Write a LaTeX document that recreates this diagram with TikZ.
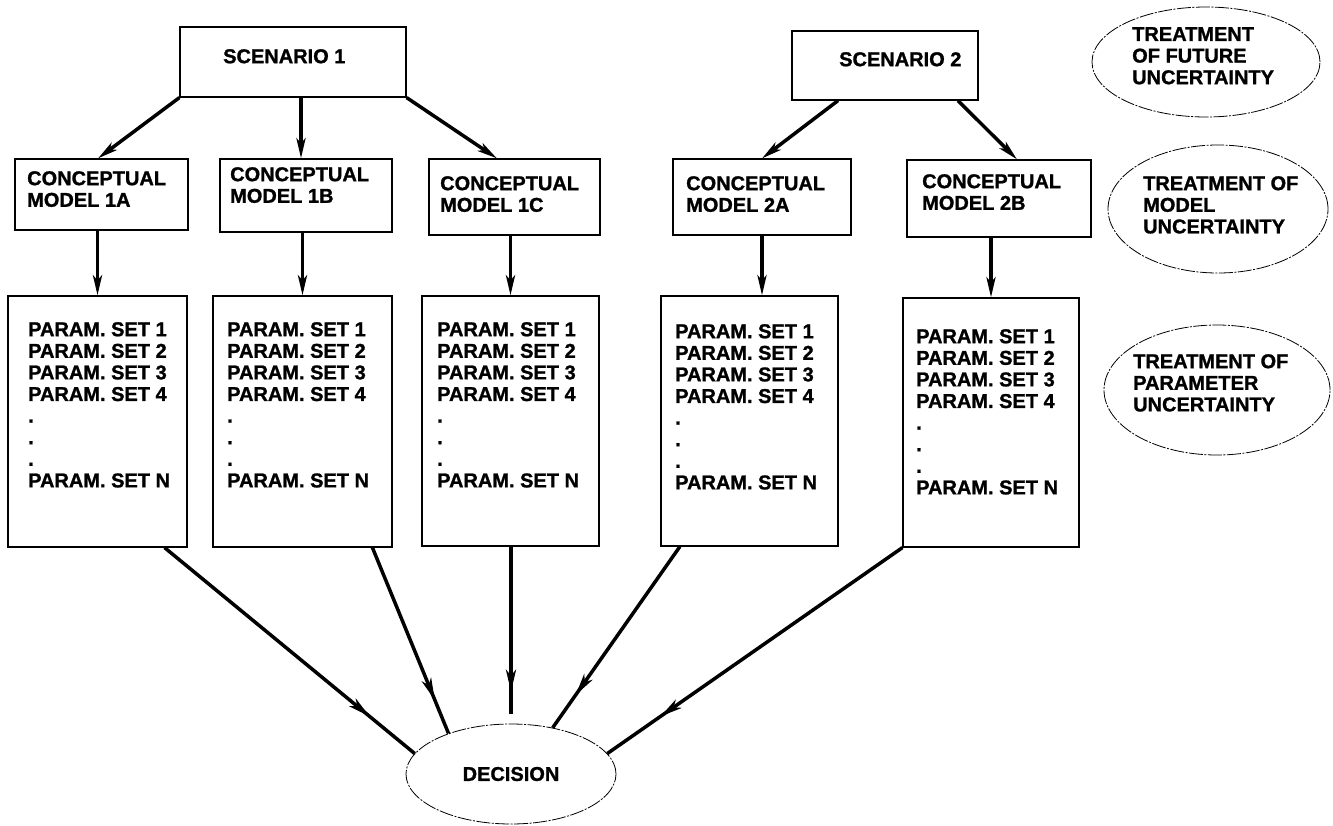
\documentclass[tikz,border=0pt]{standalone}
\usepackage{fontspec}
\setmainfont{Liberation Sans}[BoldFeatures={FakeBold=1.2}]
\usetikzlibrary{arrows.meta,decorations.markings,shapes.geometric}
\begin{document}
\begin{tikzpicture}[x=1pt,y=-1pt,
  box/.style={draw, line width=1.2pt, rectangle, inner sep=0pt},
  oval/.style={draw, ellipse, line width=0.8pt, dash pattern=on 14pt off 1.5pt on 2pt off 1.5pt, inner sep=0pt},
  txtfont/.style={font=\fontsize{20pt}{21.6pt}\selectfont\bfseries},
  txt/.style={txtfont, anchor=north west, inner sep=0pt, align=left},
  tip/.style={line width=3.5pt, -{Stealth[length=20pt,width=9pt,inset=5pt]}},
  mid/.style={line width=3.5pt, decoration={markings, mark=at position 0.82 with {\arrow{Stealth[length=22pt,width=10pt,inset=6pt]}}}, postaction={decorate}}
]
\useasboundingbox (0,0) rectangle (1333,825);

% scenario boxes
\node[box, minimum width=226pt, minimum height=70pt] (s1) at (293,62) {};
\node[box, minimum width=186pt, minimum height=69pt] (s2) at (885,65.5) {};
\node[txt] (s1t) at (223,49) {SCENARIO 1};
\node[txt] (s2t) at (839,52) {SCENARIO 2};

% conceptual model boxes
\node[box, minimum width=173pt, minimum height=71pt] (c1a) at (101.5,194.5) {};
\node[box, minimum width=172pt, minimum height=73pt] (c1b) at (306,195.5) {};
\node[box, minimum width=171pt, minimum height=76pt] (c1c) at (514.5,197) {};
\node[box, minimum width=178pt, minimum height=76pt] (c2a) at (762,197) {};
\node[box, minimum width=184pt, minimum height=77pt] (c2b) at (999,198.5) {};
\node[txt] (c1at) at (27,171) {CONCEPTUAL\\MODEL 1A};
\node[txt] (c1bt) at (230,167) {CONCEPTUAL\\MODEL 1B};
\node[txt] (c1ct) at (440,176) {CONCEPTUAL\\MODEL 1C};
\node[txt] (c2at) at (686,176) {CONCEPTUAL\\MODEL 2A};
\node[txt] (c2bt) at (922,174) {CONCEPTUAL\\MODEL 2B};

% parameter boxes
\node[box, minimum width=179pt, minimum height=251pt] (p1a) at (97.5,421.5) {};
\node[box, minimum width=179pt, minimum height=251pt] (p1b) at (302.5,421.5) {};
\node[box, minimum width=177pt, minimum height=250pt] (p1c) at (510.5,421) {};
\node[box, minimum width=177pt, minimum height=250pt] (p2a) at (749.5,421) {};
\node[box, minimum width=176pt, minimum height=249pt] (p2b) at (991,422.5) {};
\node[txt] (p1at) at (28,322) {PARAM. SET 1\\PARAM. SET 2\\PARAM. SET 3\\PARAM. SET 4\\.\\.\\.\\PARAM. SET N};
\node[txt] (p1bt) at (227,322) {PARAM. SET 1\\PARAM. SET 2\\PARAM. SET 3\\PARAM. SET 4\\.\\.\\.\\PARAM. SET N};
\node[txt] (p1ct) at (437,322) {PARAM. SET 1\\PARAM. SET 2\\PARAM. SET 3\\PARAM. SET 4\\.\\.\\.\\PARAM. SET N};
\node[txt] (p2at) at (675,324) {PARAM. SET 1\\PARAM. SET 2\\PARAM. SET 3\\PARAM. SET 4\\.\\.\\.\\PARAM. SET N};
\node[txt] (p2bt) at (916,329) {PARAM. SET 1\\PARAM. SET 2\\PARAM. SET 3\\PARAM. SET 4\\.\\.\\.\\PARAM. SET N};

% side ellipses
\node[oval, minimum width=228pt, minimum height=110pt] (e1) at (1206,62) {};
\node[oval, minimum width=220pt, minimum height=128pt] (e2) at (1218,209) {};
\node[oval, minimum width=226pt, minimum height=130pt] (e3) at (1217,390) {};
\node[txt] (e1t) at (1132,27) {TREATMENT\\OF FUTURE\\UNCERTAINTY};
\node[txt] (e2t) at (1143,176) {TREATMENT OF\\MODEL\\UNCERTAINTY};
\node[txt] (e3t) at (1133,354) {TREATMENT OF\\PARAMETER\\UNCERTAINTY};

% decision
\node[oval, txtfont, minimum width=210pt, minimum height=100pt] (dec) at (511,774) {DECISION};

% scenario -> conceptual
\draw[tip] (s1.south west) -- ([xshift=-3.5pt]c1a.north);
\draw[tip] ([xshift=8pt]s1.south) -- ([xshift=-5pt]c1b.north);
\draw[tip] (s1.south east) -- ([xshift=-17.5pt]c1c.north);
\draw[tip] ([xshift=-47pt]s2.south) -- (c2a.north);
\draw[tip] ([xshift=73pt]s2.south) -- ([xshift=18pt]c2b.north);

% conceptual -> parameters
\draw[tip] (c1a.south -| p1a.north) -- (p1a.north);
\draw[tip] (c1b.south -| p1b.north) -- (p1b.north);
\draw[tip] (c1c.south -| p1c.north) -- (p1c.north);
\draw[tip] (c2a.south) -- (c2a.south |- p2a.north);
\draw[tip] (c2b.south -| p2b.north) -- (p2b.north);

% parameters -> decision
\draw[mid] (p1a.-62) -- (dec.168);
\draw[mid] (p1b.-61.4) -- (dec.147.5);
\draw[mid, shorten >=10pt] (p1c.south -| dec.north) -- (dec.north);
\draw[mid] (p2a.-119.9) -- (dec.48.8);
\draw[mid] (p2b.south west) -- (dec.12);
\end{tikzpicture}
\end{document}
